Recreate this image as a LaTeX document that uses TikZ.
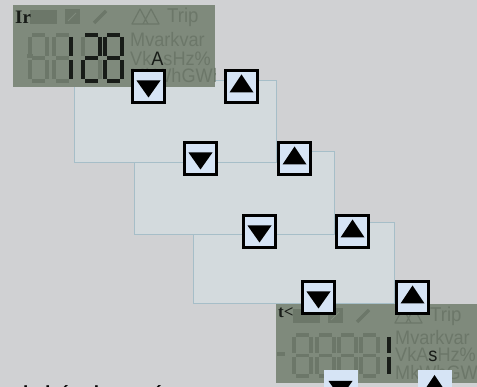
\documentclass[tikz,border=0pt]{standalone}
\usepackage{fontspec}
\setmainfont{Liberation Sans}
\newfontfamily\lcdfont[FakeStretch=0.93]{Liberation Sans}
\newfontfamily\labelfont{Liberation Serif}

\definecolor{bgray}{RGB}{208,209,211}
\definecolor{lcdgreen}{RGB}{127,138,124}
\definecolor{lcdfaint}{RGB}{108,119,105}
\definecolor{segblack}{RGB}{24,28,24}
\definecolor{panelfill}{RGB}{211,218,221}
\definecolor{paneledge}{RGB}{166,190,200}
\definecolor{btnfill}{RGB}{214,228,245}

\tikzset{
  panel/.style={fill=panelfill, draw=paneledge, line width=1},
  seg/.style={line width=3.6},
  lcdtext/.style={font=\lcdfont\fontsize{19.5}{19.5}\selectfont, text=lcdfaint, inner sep=0, anchor=base west},
  lcdlabel/.style={font=\labelfont\bfseries\fontsize{19}{19}\selectfont, text=segblack, inner sep=0, anchor=base west},
  btn/.style={rectangle, draw=black, line width=3, fill=btnfill, minimum size=32, inner sep=0},
  flatbtn/.style={rectangle, fill=btnfill, minimum size=34, inner sep=0},
  downmark/.style={path picture={\fill[black] ([shift={(-12,-6)}]path picture bounding box.center) -- ++(24,0) -- ++(-12,17) -- cycle;}},
  upmark/.style={path picture={\fill[black] ([shift={(-12,6)}]path picture bounding box.center) -- ++(24,0) -- ++(-12,-18) -- cycle;}},
}

% seven segment digit: x, y, width, height, colour
\newcommand\sega[5]{\draw[seg,#5] (#1+2,#2) -- (#1+#3-2,#2);}
\newcommand\segb[5]{\draw[seg,#5] (#1+#3,#2+2) -- (#1+#3,#2+#4/2-2);}
\newcommand\segc[5]{\draw[seg,#5] (#1+#3,#2+#4/2+2) -- (#1+#3,#2+#4-2);}
\newcommand\segd[5]{\draw[seg,#5] (#1+2,#2+#4) -- (#1+#3-2,#2+#4);}
\newcommand\sege[5]{\draw[seg,#5] (#1,#2+#4/2+2) -- (#1,#2+#4-2);}
\newcommand\segf[5]{\draw[seg,#5] (#1,#2+2) -- (#1,#2+#4/2-2);}
\newcommand\segg[5]{\draw[seg,#5] (#1+2,#2+#4/2) -- (#1+#3-2,#2+#4/2);}
\newcommand\sevenseg[6]{\foreach \s in {#5}{\csname seg\s\endcsname{#1}{#2}{#3}{#4}{#6}}}

% faint icon row of a display
\newcommand\lcdicons[1]{%
  \fill[lcdfaint] (17,5) rectangle (44,19);
  \fill[lcdfaint] (52,4) rectangle (67,19);
  \draw[lcdgreen, line width=1] (55,16) -- (63,8);
  \draw[lcdfaint, line width=3.5] (81,18) -- (93,6);
  \draw[lcdfaint, line width=1.2, line join=round] (119,19) -- (127,4) -- (135,19) -- cycle
    (130,19) -- (138,4) -- (146,19) -- cycle;
  \node[lcdtext, font=\lcdfont\fontsize{20}{20}\selectfont] (trip#1) at (154,18) {Trip};
}

\begin{document}
\begin{tikzpicture}[x=1pt,y=-1pt]
  \useasboundingbox (0,0) rectangle (477,387);
  \fill[bgray] (0,0) rectangle (477,387);

  % panels, back to front
  \draw[panel] (193,223) rectangle (394,304);
  \draw[panel] (134,152) rectangle (334,235);
  \draw[panel] (74,81) rectangle (276,163);

  % first display
  \begin{scope}[shift={(13,5)}]
    \fill[lcdgreen] (0,0) rectangle (202,82);
    \clip (0,0) rectangle (202,82);
    \lcdicons{Ir}
    \node[lcdlabel] (labelIr) at (2,19) {Ir};
    \draw[seg, lcdfaint] (14,51) -- (20,51);
    \sevenseg{17}{30}{17}{46}{a,b,c,d,e,f,g}{lcdfaint}
    \sevenseg{41}{30}{17}{46}{a,d,e,f,g}{lcdfaint}
    \sevenseg{41}{30}{17}{46}{b,c}{segblack}
    \sevenseg{70}{30}{17}{46}{c,f}{lcdfaint}
    \sevenseg{70}{30}{17}{46}{a,b,g,e,d}{segblack}
    \sevenseg{92}{30}{17}{46}{a,b,c,d,e,f,g}{segblack}
    \node[lcdtext] (unitsIrA) at (117,42) {Mvarkvar};
    \node[lcdtext] (unitsIrB) at (117,61) {Vk\textcolor{segblack}{A}sHz\%};
    \node[lcdtext] (unitsIrC) at (117,78) {MkWhGWh};
  \end{scope}

  % second display
  \begin{scope}[shift={(276,304)}]
    \fill[lcdgreen] (0,0) rectangle (202,79);
    \clip (0,0) rectangle (202,79);
    \lcdicons{Tr}
    \node[lcdlabel, font=\labelfont\bfseries\fontsize{17}{17}\selectfont] (labelTr) at (2,14) {t<};
    \draw[seg, lcdfaint] (1,50) -- (9,50);
    \foreach \dx in {18,41,63,85}
      \sevenseg{\dx}{31}{17}{41}{a,b,c,d,e,f,g}{lcdfaint};
    \sevenseg{96}{31}{17}{41}{b,c}{segblack}
    \node[lcdtext] (unitsTrA) at (119,41) {Mvarkvar};
    \node[lcdtext] (unitsTrB) at (119,58) {VkA\textcolor{segblack}{s}Hz\%};
    \node[lcdtext] (unitsTrC) at (119,76) {MkWhGWh};
  \end{scope}

  % arrow keys
  \foreach \i/\dx/\ux/\y in {1/148.5/241.5/86.5, 2/200.5/294.5/158.5,
                              3/259.5/352.5/231.5, 4/318.5/412.5/297.5}{
    \node[btn, downmark] (down\i) at (\dx,\y) {};
    \node[btn, upmark] (up\i) at (\ux,\y) {};
  }
  \node[flatbtn, downmark] (down5) at (340.5,387) {};
  \node[flatbtn, upmark] (up5) at (434.5,387) {};

  \node[font=\bfseries\fontsize{19}{19}\selectfont, anchor=base west, inner sep=0] (caption) at (-12,400) {Poslední zobrazení};
\end{tikzpicture}
\end{document}
